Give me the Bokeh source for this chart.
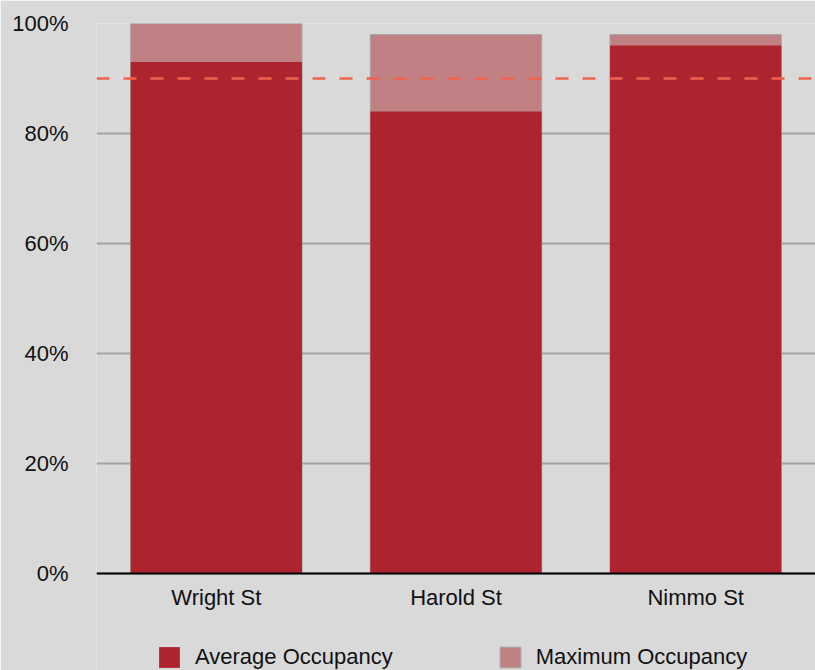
from bokeh.plotting import figure
from bokeh.models import Span, Legend, LegendItem, NumeralTickFormatter, FixedTicker, Range1d
from bokeh.embed import file_html
from bokeh.resources import INLINE

streets = ["Wright St", "Harold St", "Nimmo St"]
average_occupancy = [0.93, 0.84, 0.96]
maximum_occupancy = [1.00, 0.98, 0.98]
target_occupancy = 0.90
y_ticks = [0, 0.2, 0.4, 0.6, 0.8, 1.0]

BG = "#d9d9d9"
AVG_COLOR = "#ad242e"
MAX_COLOR = "#c18084"
FONT = "Liberation Sans"
FS = "22px"

# frame runs to the bottom of the page; 0% sits 97px above it (550px per 100%)
y_start = -97 / 550

p = figure(x_range=streets, y_range=Range1d(y_start, 1.0), width=815, height=670,
           output_backend="svg", toolbar_location=None,
           background_fill_color=BG, border_fill_color=BG, outline_line_color=None,
           min_border_left=96, min_border_top=23, min_border_bottom=0, min_border_right=0)

r_max = p.vbar(x=streets, top=maximum_occupancy, width=0.715, fill_color=MAX_COLOR,
               line_color="#a8a8a8", line_width=1)
r_avg = p.vbar(x=streets, top=average_occupancy, width=0.715, fill_color=AVG_COLOR,
               line_color=None)

p.add_layout(Span(location=target_occupancy, dimension="width", line_color="#f0644e",
                  line_width=2.5, line_dash="13 14"))

p.yaxis.ticker = FixedTicker(ticks=y_ticks)
p.yaxis.formatter = NumeralTickFormatter(format="0%")
p.yaxis.axis_line_color = None
p.yaxis.major_tick_line_color = None
p.yaxis.minor_tick_line_color = None
p.yaxis.major_label_standoff = 22
p.yaxis.major_label_text_font = FONT
p.yaxis.major_label_text_font_size = FS
p.yaxis.major_label_text_color = "#111111"

p.xaxis.fixed_location = 0
p.xaxis.axis_line_color = "black"
p.xaxis.axis_line_width = 2
p.xaxis.major_tick_line_color = None
p.xaxis.minor_tick_line_color = None
p.xaxis.major_label_standoff = 5
p.xaxis.major_label_text_font = FONT
p.xaxis.major_label_text_font_size = FS
p.xaxis.major_label_text_color = "#111111"

p.xgrid.grid_line_color = None
p.ygrid.grid_line_color = "#a3a3a3"
p.ygrid.grid_line_width = 2
p.ygrid.ticker = FixedTicker(ticks=y_ticks)

legend = Legend(items=[LegendItem(label="Average Occupancy", renderers=[r_avg]),
                       LegendItem(label="Maximum Occupancy", renderers=[r_max])],
                orientation="horizontal", location=(60, 0),
                background_fill_alpha=0, border_line_color=None,
                glyph_width=26, glyph_height=26, label_standoff=13, spacing=104,
                padding=0, margin=0,
                label_text_font=FONT, label_text_font_size=FS,
                label_text_color="#111111")
p.add_layout(legend)

open("out.html", "w").write(file_html(p, INLINE))
